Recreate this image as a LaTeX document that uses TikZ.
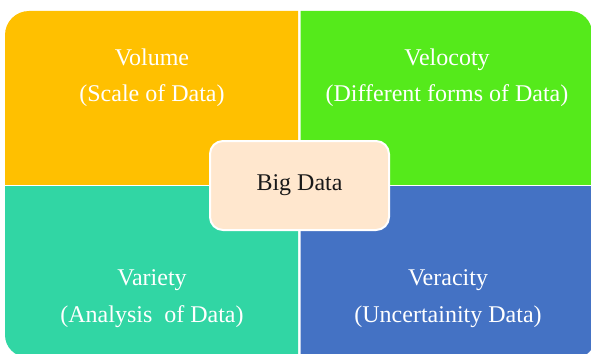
\documentclass[tikz,border=0pt]{standalone}
\usepackage{fontspec}
\setmainfont{Liberation Serif}
\definecolor{cyellow}{HTML}{FFC000}
\definecolor{cgreen}{HTML}{55EA1B}
\definecolor{cteal}{HTML}{31D6A4}
\definecolor{cblue}{HTML}{4472C4}
\definecolor{cpeach}{HTML}{FFE7CE}
\tikzset{
  quadtext/.style={text=white, align=center, inner sep=0pt,
    font=\fontsize{24}{36.5}\selectfont},
  centerbox/.style={fill=cpeach, draw=white, line width=2pt,
    rounded corners=13pt, minimum width=179pt, minimum height=89pt,
    inner sep=0pt, font=\fontsize{24}{28}\selectfont, text=black!90}
}
\begin{document}
\begin{tikzpicture}[x=1pt,y=-1pt]
\useasboundingbox (0,0) rectangle (591,353);
\fill[white] (0,0) rectangle (591,353);
% yellow: top-left rounded
\begin{scope}
  \clip (5,11) rectangle (298,184.5);
  \fill[cyellow, rounded corners=24pt] (5,11) rectangle (340,230);
\end{scope}
% green: top-right rounded
\begin{scope}
  \clip (300.5,11) rectangle (591,184.5);
  \fill[cgreen, rounded corners=22pt] (260,11) rectangle (592,230);
\end{scope}
% teal: bottom-left rounded
\begin{scope}
  \clip (5,186.7) rectangle (298,353);
  \fill[cteal, rounded corners=22pt] (5,140) rectangle (340,357);
\end{scope}
% blue: bottom-right rounded (mostly cut by the edge)
\begin{scope}
  \clip (300.5,186.7) rectangle (591,353);
  \fill[cblue, rounded corners=20pt] (260,140) rectangle (595,358);
\end{scope}
\node[quadtext] (volume) at (152,77.9) {Volume\\(Scale of Data)};
\node[quadtext] (velocity) at (447,77.9) {Velocoty\\(Different forms of Data)};
\node[quadtext] (variety) at (152,298.7) {Variety\\(Analysis\ \ of Data)};
\node[quadtext] (veracity) at (448,298.7) {Veracity\\(Uncertainity Data)};
\node[centerbox] (big) at (299.5,185.5) {Big Data};
\end{tikzpicture}
\end{document}
